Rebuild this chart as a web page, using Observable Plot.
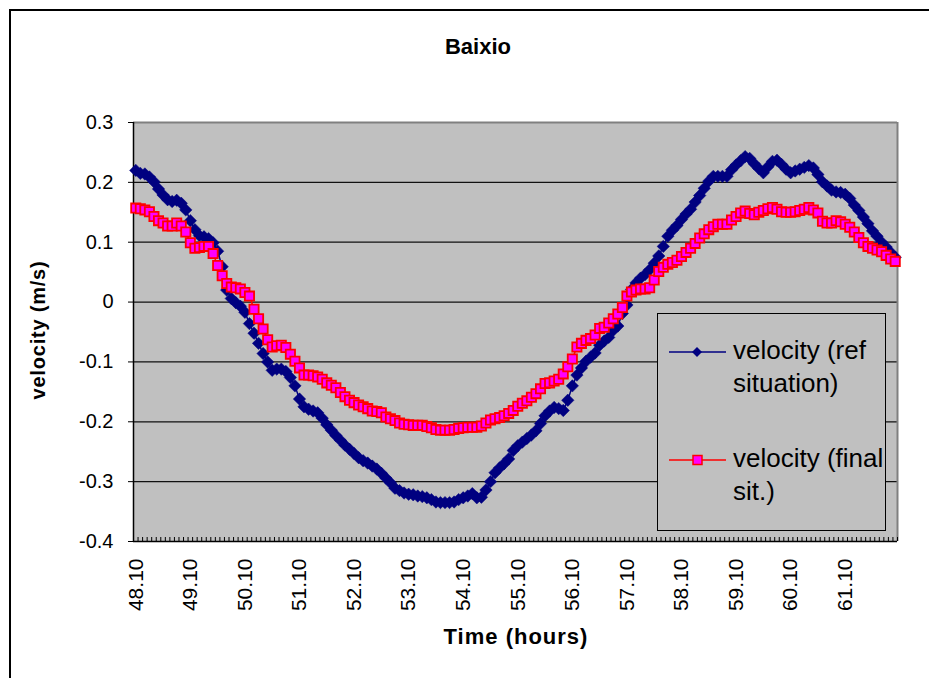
<!DOCTYPE html>
<html><head><meta charset="utf-8">
<script src="https://cdn.jsdelivr.net/npm/d3@7"></script>
<script src="https://cdn.jsdelivr.net/npm/@observablehq/plot@0.6"></script>
<style>
body{margin:0;background:#fff;font-family:"Liberation Sans",Arial,sans-serif;width:929px;height:678px;overflow:hidden;position:relative}
#frame{position:absolute;left:9px;top:9px;width:1000px;height:800px;border:2px solid #000;box-sizing:border-box}
#chart{position:absolute;left:0;top:0}
.t{position:absolute;font-weight:bold;text-align:center;color:#000;white-space:nowrap}
#legend{position:absolute;left:657px;top:313px;width:229px;height:218px;background:#c0c0c0;border:1px solid #000;box-sizing:border-box}
</style></head><body>
<div id="frame"></div>
<div id="chart"></div>
<div class="t" id="title" style="left:378px;width:200px;top:36px;font-size:22px;line-height:22px">Baixio</div>
<div class="t" id="xtitle" style="left:416px;width:200px;top:626px;font-size:22px;line-height:22px;letter-spacing:1px">Time (hours)</div>
<div class="t" id="ytitle" style="left:-62px;width:200px;top:319px;height:22px;font-size:20px;line-height:22px;letter-spacing:0.8px;transform:rotate(-90deg)">velocity (m/s)</div>
<div id="legend"></div>
<script>
const velRef = [
0.22, 0.215, 0.214, 0.209, 0.201, 0.189, 0.179, 0.171, 0.168, 0.17,
0.165, 0.154, 0.136, 0.121, 0.111, 0.109, 0.106, 0.099, 0.085, 0.059,
0.02, 0.006, -0.001, -0.007, -0.017, -0.036, -0.052, -0.069, -0.086, -0.1,
-0.114, -0.112, -0.112, -0.116, -0.126, -0.14, -0.162, -0.175, -0.179, -0.182,
-0.185, -0.194, -0.205, -0.214, -0.223, -0.231, -0.239, -0.246, -0.253, -0.26,
-0.265, -0.269, -0.274, -0.279, -0.286, -0.294, -0.302, -0.311, -0.315, -0.319,
-0.321, -0.322, -0.324, -0.325, -0.327, -0.33, -0.334, -0.335, -0.335, -0.335,
-0.334, -0.33, -0.327, -0.324, -0.32, -0.327, -0.326, -0.314, -0.3, -0.285,
-0.277, -0.27, -0.262, -0.248, -0.24, -0.234, -0.228, -0.222, -0.215, -0.203,
-0.19, -0.182, -0.176, -0.178, -0.181, -0.164, -0.14, -0.122, -0.11, -0.099,
-0.092, -0.085, -0.072, -0.065, -0.059, -0.047, -0.04, -0.019, -0.005, 0.021,
0.032, 0.04, 0.046, 0.054, 0.065, 0.077, 0.093, 0.11, 0.12, 0.128,
0.138, 0.147, 0.155, 0.167, 0.178, 0.19, 0.202, 0.21, 0.21, 0.21,
0.21, 0.221, 0.229, 0.236, 0.243, 0.24, 0.231, 0.223, 0.216, 0.226,
0.235, 0.237, 0.23, 0.222, 0.216, 0.219, 0.222, 0.225, 0.228, 0.224,
0.213, 0.201, 0.194, 0.187, 0.184, 0.183, 0.18, 0.173, 0.162, 0.153,
0.142, 0.131, 0.119, 0.11, 0.1, 0.092, 0.083, 0.075
];
const velFinal = [
0.157, 0.156, 0.154, 0.151, 0.143, 0.136, 0.132, 0.127, 0.127, 0.132,
0.127, 0.117, 0.099, 0.09, 0.091, 0.093, 0.093, 0.081, 0.061, 0.044,
0.031, 0.025, 0.024, 0.022, 0.016, 0.01, -0.012, -0.028, -0.045, -0.063,
-0.075, -0.073, -0.072, -0.076, -0.087, -0.099, -0.11, -0.122, -0.122, -0.123,
-0.125, -0.129, -0.135, -0.139, -0.143, -0.151, -0.158, -0.164, -0.168, -0.172,
-0.175, -0.178, -0.182, -0.183, -0.185, -0.192, -0.195, -0.198, -0.202, -0.204,
-0.205, -0.206, -0.206, -0.206, -0.208, -0.21, -0.213, -0.214, -0.214, -0.214,
-0.213, -0.211, -0.21, -0.209, -0.209, -0.209, -0.207, -0.202, -0.197, -0.195,
-0.193, -0.19, -0.186, -0.181, -0.174, -0.169, -0.165, -0.159, -0.153, -0.145,
-0.136, -0.135, -0.132, -0.129, -0.12, -0.108, -0.095, -0.075, -0.069, -0.064,
-0.061, -0.055, -0.044, -0.042, -0.035, -0.028, -0.02, -0.009, 0.01, 0.017,
0.02, 0.022, 0.022, 0.024, 0.037, 0.051, 0.058, 0.063, 0.066, 0.07,
0.076, 0.083, 0.09, 0.098, 0.107, 0.114, 0.121, 0.126, 0.13, 0.13,
0.13, 0.137, 0.143, 0.149, 0.152, 0.148, 0.146, 0.15, 0.153, 0.156,
0.158, 0.155, 0.151, 0.15, 0.15, 0.151, 0.153, 0.155, 0.158, 0.154,
0.149, 0.135, 0.132, 0.132, 0.136, 0.134, 0.13, 0.125, 0.117, 0.108,
0.099, 0.093, 0.09, 0.087, 0.084, 0.078, 0.072, 0.068
];
const timeLabels = ["48.10","49.10","50.10","51.10","52.10","53.10","54.10","55.10","56.10","57.10","58.10","59.10","60.10","61.10"];
const stepsPerHour = 12;
const yTicks = [0.3, 0.2, 0.1, 0, -0.1, -0.2, -0.3, -0.4];
const yTickLabels = ["0.3","0.2","0.1","0","-0.1","-0.2","-0.3","-0.4"];
const seriesNames = ["velocity (ref situation)", "velocity (final sit.)"];

const n = velRef.length;
const ref = velRef.map((v, i) => ({i, v}));
const fin = velFinal.map((v, i) => ({i, v}));
const labelPos = timeLabels.map((_, k) => k * stepsPerHour);
const bounds = d3.range(n + 1).map(k => k - 0.5);

const chart = Plot.plot({
  width: 929, height: 678,
  marginLeft: 133, marginRight: 32, marginTop: 122, marginBottom: 137,
  x: {domain: [-0.5, n - 0.5]},
  y: {domain: [-0.4, 0.3]},
  style: {fontFamily: "'Liberation Sans', Arial, sans-serif", background: "transparent", overflow: "visible", color: "#000"},
  marks: [
    Plot.frame({fill: "#c0c0c0", stroke: null}),
    Plot.ruleY(yTicks.slice(1, -1), {stroke: "#111", strokeWidth: 1.2}),
    Plot.ruleY([0.3], {stroke: "#808080", strokeWidth: 2}),
    Plot.ruleX([n - 0.5], {stroke: "#808080", strokeWidth: 2}),
    Plot.axisX(bounds, {tickSize: 4, dy: -4, fill: "none", label: null, stroke: "#000"}),
    Plot.axisX(labelPos, {tickSize: 0, tickRotate: -90, tickPadding: 17, fontSize: 21, tickFormat: d => timeLabels[Math.round(d / stepsPerHour)], label: null}),
    Plot.axisY(yTicks, {tickSize: 5, tickPadding: 15, fontSize: 20, tickFormat: d => yTickLabels[yTicks.indexOf(d)], label: null}),
    Plot.ruleX([-0.5], {stroke: "#000", strokeWidth: 1.5}),
    Plot.ruleY([-0.4], {stroke: "#000", strokeWidth: 1.5}),
    Plot.line(ref, {x: "i", y: "v", stroke: "#000080", strokeWidth: 1.5}),
    Plot.dot(ref, {x: "i", y: "v", symbol: "diamond2", r: 5.6, fill: "#000080", stroke: "#000080", strokeWidth: 0.5}),
    Plot.line(fin, {x: "i", y: "v", stroke: "#ff0000", strokeWidth: 1.5}),
    Plot.dot(fin, {x: "i", y: "v", symbol: "square", r: 5.2, fill: "#ff00ff", stroke: "#ff0000", strokeWidth: 1.8})
  ]
});
document.getElementById("chart").appendChild(chart);

// legend
const lg = d3.select("#legend").append("svg").attr("width", 227).attr("height", 216)
  .style("position", "absolute").style("left", "0px").style("top", "0px")
  .style("font-family", "'Liberation Sans', Arial, sans-serif");
const entries = [
  {lines: ["velocity (ref", "situation)"], y: 38, color: "#000080", fill: "#000080", shape: "diamond"},
  {lines: ["velocity (final", "sit.)"], y: 146, color: "#ff0000", fill: "#ff00ff", shape: "square"}
];
entries.forEach(e => {
  lg.append("line").attr("x1", 11).attr("x2", 68).attr("y1", e.y).attr("y2", e.y)
    .attr("stroke", e.color).attr("stroke-width", 1.5);
  if (e.shape === "diamond") {
    lg.append("path").attr("d", d3.symbol(d3.symbolDiamond2, 64)()).attr("transform", `translate(39,${e.y})`)
      .attr("fill", e.fill);
  } else {
    lg.append("rect").attr("x", 35).attr("y", e.y - 4.5).attr("width", 9).attr("height", 9)
      .attr("fill", e.fill).attr("stroke", e.color).attr("stroke-width", 1.5);
  }
  e.lines.forEach((t, k) => {
    lg.append("text").attr("x", 75).attr("y", e.y + 7 + k * 33).attr("font-size", 26).attr("fill", "#000").text(t);
  });
});
</script>
</body></html>
